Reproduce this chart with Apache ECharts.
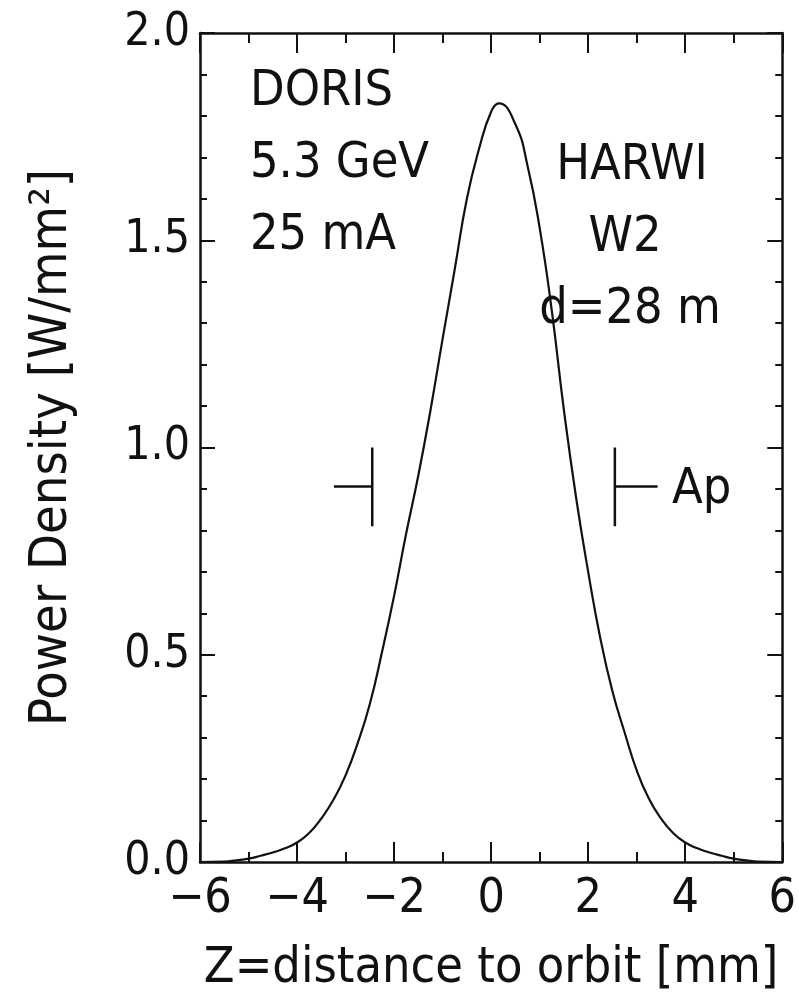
<!DOCTYPE html>
<html>
<head>
<meta charset="utf-8">
<script src="https://cdn.jsdelivr.net/npm/echarts@6/dist/echarts.min.js"></script>
<style>
  html, body { margin: 0; padding: 0; background: #fff; }
  #chart { width: 799px; height: 1000px; }
</style>
</head>
<body>
<div id="chart"></div>
<script>
  // values: distance to orbit [mm] -> power density [W/mm2]
  const zValues = [-6, -5.5, -5.25, -5, -4.75, -4.5, -4.25, -4, -3.75, -3.5, -3.25, -3, -2.75,
    -2.5, -2.25, -2, -1.75, -1.5, -1.25, -1, -0.75, -0.5, -0.25, 0, 0.16, 0.5, 0.75, 1, 1.25,
    1.5, 1.75, 2, 2.25, 2.5, 2.75, 3, 3.25, 3.5, 3.75, 4, 4.25, 4.5, 4.75, 5, 5.25, 5.5, 6];
  const powerValues = [0, 0.001, 0.004, 0.008, 0.015, 0.023, 0.033, 0.047, 0.07, 0.105, 0.15,
    0.209, 0.287, 0.381, 0.506, 0.642, 0.793, 0.933, 1.09, 1.262, 1.43, 1.6, 1.72, 1.81, 1.83,
    1.78, 1.68, 1.53, 1.33, 1.09, 0.88, 0.7, 0.54, 0.412, 0.313, 0.221, 0.153, 0.105, 0.07,
    0.047, 0.033, 0.023, 0.015, 0.008, 0.004, 0.001, 0];

  // aperture marks (Ap)
  const apertureEdges = [-2.45, 2.55];
  const apertureArms = [-3.24, 3.43];
  const apertureBar = [0.81, 1.0];
  const apertureLevel = 0.906;

  const xTicks = [-6, -4, -2, 0, 2, 4, 6];
  const yTicks = ["0.0", "0.5", "1.0", "1.5", "2.0"];

  const FONT = "'Liberation Sans Narrow', 'DejaVu Sans Condensed', sans-serif";
  const INK = "#111";

  const chart = echarts.init(document.getElementById("chart"));

  const curve = zValues.map((z, i) => [z, powerValues[i]]);
  const apSeries = apertureEdges.map((edge, i) => ({
    type: "line",
    data: [
      [apertureArms[i], apertureLevel],
      [edge, apertureLevel],
      [edge, apertureBar[1]],
      [edge, apertureBar[0]],
    ],
    symbol: "none",
    silent: true,
    lineStyle: { color: INK, width: 2.5 },
  }));

  const baseX = {
    type: "value",
    min: xTicks[0],
    max: xTicks[xTicks.length - 1],
    interval: 2,
    axisLine: { show: true, onZero: false, lineStyle: { color: INK, width: 2.5 } },
    axisTick: { show: true, inside: true, length: 20, lineStyle: { color: INK, width: 2 } },
    minorTick: { show: true, splitNumber: 2, length: 10, lineStyle: { color: INK, width: 2 } },
    splitLine: { show: false },
  };
  const baseY = {
    type: "value",
    min: 0,
    max: 2,
    interval: 0.5,
    axisLine: { show: true, onZero: false, lineStyle: { color: INK, width: 2.5 } },
    axisTick: { show: true, inside: true, length: 15, lineStyle: { color: INK, width: 2 } },
    minorTick: { show: true, splitNumber: 5, length: 7, lineStyle: { color: INK, width: 2 } },
    splitLine: { show: false },
  };

  const option = {
    backgroundColor: "#fff",
    animation: false,
    grid: { left: 200, right: 14, top: 33, bottom: 138, containLabel: false },
    xAxis: [
      Object.assign({}, baseX, {
        position: "bottom",
        name: "Z=distance to orbit [mm]",
        nameLocation: "middle",
        nameGap: 82,
        nameTextStyle: { color: INK, fontFamily: FONT, fontSize: 50 },
        axisLabel: {
          color: INK,
          fontFamily: FONT,
          fontSize: 48,
          margin: 14,
          formatter: (v) => (v < 0 ? "\u2212" + Math.abs(v) : String(v)),
        },
      }),
      Object.assign({}, baseX, { position: "top", axisLabel: { show: false } }),
    ],
    yAxis: [
      Object.assign({}, baseY, {
        position: "left",
        name: "Power Density [W/mm\u00b2]",
        nameLocation: "middle",
        nameGap: 122,
        nameTextStyle: { color: INK, fontFamily: FONT, fontSize: 52 },
        axisLabel: {
          color: INK,
          fontFamily: FONT,
          fontSize: 46,
          margin: 10,
          formatter: (v) => yTicks[Math.round(v * 2)],
        },
      }),
      Object.assign({}, baseY, { position: "right", axisLabel: { show: false } }),
    ],
    series: [
      {
        type: "line",
        data: curve,
        smooth: 0.5,
        symbol: "none",
        silent: true,
        lineStyle: { color: INK, width: 2.2 },
      },
    ].concat(apSeries),
    graphic: [
      { type: "text", x: 250, y: 92, style: { text: "DORIS", fill: INK, font: "50px " + FONT, textVerticalAlign: "middle" } },
      { type: "text", x: 250, y: 164, style: { text: "5.3 GeV", fill: INK, font: "50px " + FONT, textVerticalAlign: "middle" } },
      { type: "text", x: 250, y: 236, style: { text: "25 mA", fill: INK, font: "50px " + FONT, textVerticalAlign: "middle" } },
      { type: "text", x: 632, y: 166, style: { text: "HARWI", fill: INK, font: "50px " + FONT, textAlign: "center", textVerticalAlign: "middle" } },
      { type: "text", x: 625, y: 238, style: { text: "W2", fill: INK, font: "50px " + FONT, textAlign: "center", textVerticalAlign: "middle" } },
      { type: "text", x: 630, y: 310, style: { text: "d=28 m", fill: INK, font: "50px " + FONT, textAlign: "center", textVerticalAlign: "middle" } },
      { type: "text", x: 672, y: 490, style: { text: "Ap", fill: INK, font: "50px " + FONT, textVerticalAlign: "middle" } },
    ],
  };

  chart.setOption(option);
</script>
</body>
</html>
